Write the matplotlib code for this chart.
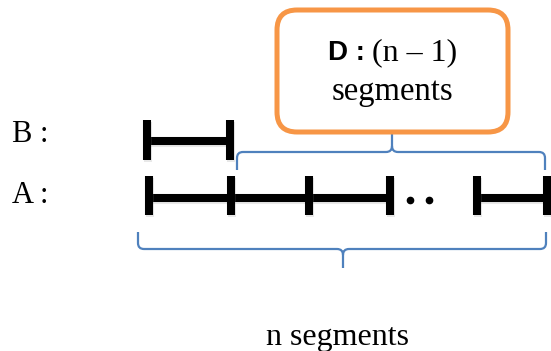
import matplotlib
matplotlib.use('Agg')
import matplotlib.pyplot as plt
import matplotlib.patheffects as pe
from matplotlib.patches import FancyBboxPatch, PathPatch
from matplotlib.path import Path

# positions of the segment ticks (pixel space of the original picture)
b_ticks = [147, 230]
a_ticks_left = [149, 231, 309, 390]
a_ticks_right = [477, 547]
a_dots = [410, 429]

seg_color = 'black'
brace_color = '#4F81BD'
box_color = '#F79646'
serif = 'Liberation Serif'
shadow = [pe.SimpleLineShadow(offset=(1, -1.5), shadow_color='gray', alpha=0.18), pe.Normal()]


def brace(ax, x0, x1, xm, y_base, y_end, y_tip, r=6):
    # curly brace: ends at y_end, flat part at y_base, tip at y_tip
    d = 1 if y_tip > y_base else -1
    verts = [(x0, y_end), (x0, y_base - d * r),
             (x0, y_base), (x0 + r, y_base),
             (xm - r, y_base), (xm, y_base), (xm, y_base + d * r),
             (xm, y_tip),
             (xm, y_base + d * r), (xm, y_base), (xm + r, y_base),
             (x1 - r, y_base), (x1, y_base), (x1, y_base - d * r),
             (x1, y_end)]
    codes = [Path.MOVETO, Path.LINETO, Path.CURVE3, Path.CURVE3,
             Path.LINETO, Path.CURVE3, Path.CURVE3, Path.LINETO,
             Path.MOVETO, Path.CURVE3, Path.CURVE3,
             Path.LINETO, Path.CURVE3, Path.CURVE3, Path.LINETO]
    ax.add_patch(PathPatch(Path(verts, codes), fill=False, edgecolor=brace_color, lw=1.6))


def seg(ax, xs, ys):
    ax.plot(xs, ys, color=seg_color, lw=5.8, solid_capstyle='butt', path_effects=shadow)


fig = plt.figure(figsize=(5.51, 3.51), dpi=100)
ax = fig.add_axes([0, 0, 1, 1])
ax.set_xlim(0, 551)
ax.set_ylim(351, 0)
ax.axis('off')

# B row
seg(ax, b_ticks, [141, 141])
for x in b_ticks:
    seg(ax, [x, x], [120, 160])

# A row
seg(ax, [a_ticks_left[0], a_ticks_left[-1]], [198, 198])
seg(ax, a_ticks_right, [198, 198])
for x in a_ticks_left + a_ticks_right:
    seg(ax, [x, x], [176, 215])
ax.plot(a_dots, [200, 200], 'o', color=seg_color, ms=4.5, ls='none')

# braces
brace(ax, 237, 545, 392, 152, 170, 133)
brace(ax, 138, 546, 343, 249, 232, 268)

# box
box = FancyBboxPatch((277, 10), 231, 122, boxstyle='round,pad=0,rounding_size=20',
                     facecolor='white', edgecolor=box_color, lw=3.6, zorder=3)
ax.add_patch(box)
ax.text(328, 60, 'D :', fontsize=20, fontweight='bold', family='Liberation Sans',
        ha='left', va='baseline', zorder=4)
ax.text(372, 60, '(n \u2013 1)', fontsize=23, family=serif, ha='left', va='baseline', zorder=4)
ax.text(392.5, 100, 'segments', fontsize=23.5, family=serif, ha='center', va='baseline', zorder=4)

# labels
ax.text(12, 142, 'B :', fontsize=22, family=serif, ha='left', va='baseline')
ax.text(12, 203, 'A :', fontsize=22, family=serif, ha='left', va='baseline')
ax.text(338, 345, 'n segments', fontsize=23, family=serif, ha='center', va='baseline')

fig.savefig('out.png', dpi=100)
